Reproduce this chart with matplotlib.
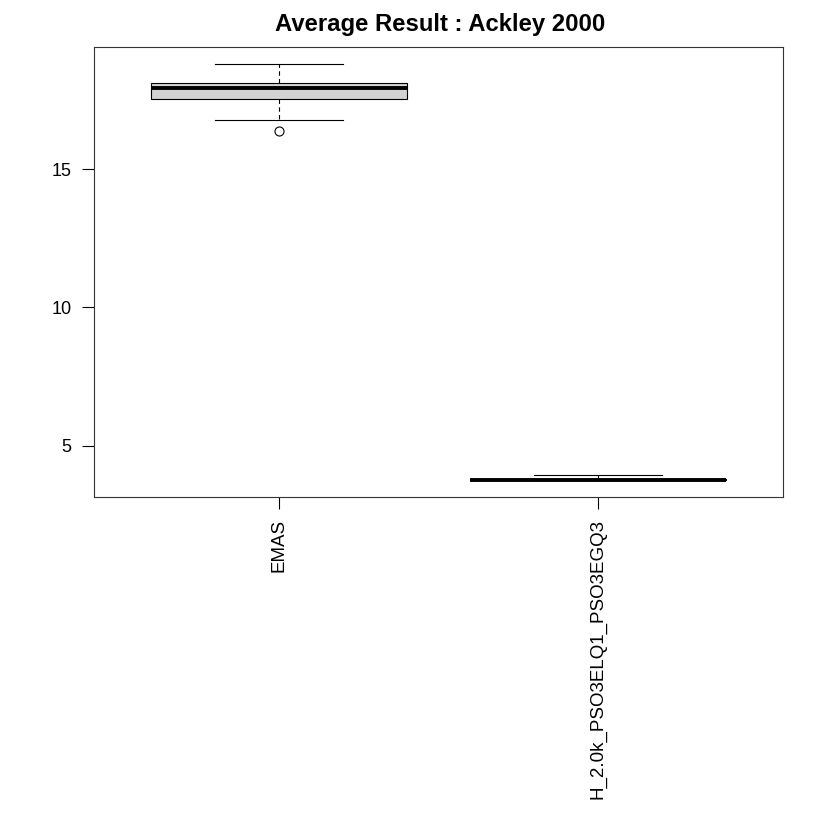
import matplotlib
matplotlib.use("Agg")
import matplotlib.pyplot as plt

plt.rcParams['font.family'] = ['Liberation Sans', 'DejaVu Sans']

# box statistics
labels = ["EMAS", "H_2.0k_PSO3ELQ1_PSO3EGQ3"]
whislo = [16.80, 3.75]
q1 = [17.55, 3.74]
med = [17.96, 3.76]
q3 = [18.13, 3.78]
whishi = [18.83, 3.92]
fliers = [[16.39], []]

stats = []
for i in range(len(labels)):
    stats.append(dict(label=labels[i], whislo=whislo[i], q1=q1[i], med=med[i],
                      q3=q3[i], whishi=whishi[i], fliers=fliers[i]))

fig = plt.figure(figsize=(8.3, 8.3), dpi=100, facecolor="white")
ax = fig.add_axes([94/830, (830-497)/830, 689/830, 450/830])

ax.bxp(stats, positions=[1, 2], widths=0.8, patch_artist=True,
       boxprops=dict(facecolor="#D3D3D3", edgecolor="black", linewidth=0.8),
       medianprops=dict(color="black", linewidth=2.8, solid_capstyle="butt"),
       whiskerprops=dict(color="black", linewidth=0.8, linestyle=(0, (4, 3))),
       capprops=dict(color="black", linewidth=0.8),
       capwidths=0.4,
       flierprops=dict(marker="o", markerfacecolor="none", markeredgecolor="black",
                       markersize=6.5, markeredgewidth=0.8))

# R style: 4% padding on both axes
lo = min(whislo + q1)
hi = max(whishi)
pad = (hi - lo) * 0.04
ax.set_ylim(lo - pad, hi + pad)
ax.set_xlim(0.42, 2.58)
ax.set_yticks([5, 10, 15])
ax.set_xticks([1, 2])
ax.set_xticklabels(labels, rotation=90, va="top", ha="center")
ax.tick_params(axis="both", direction="out", length=8.6, width=0.8, pad=7.5,
               colors="black")
ax.tick_params(axis="y", labelsize=13)
ax.tick_params(axis="x", labelsize=13.5)
for s in ax.spines.values():
    s.set_linewidth(0.8)
    s.set_color("#333333")

fig.text(0.53, 1 - 25/830, "Average Result : Ackley 2000", ha="center", va="center",
         fontsize=17.2, fontweight="bold")

fig.savefig("out.png", dpi=100)
